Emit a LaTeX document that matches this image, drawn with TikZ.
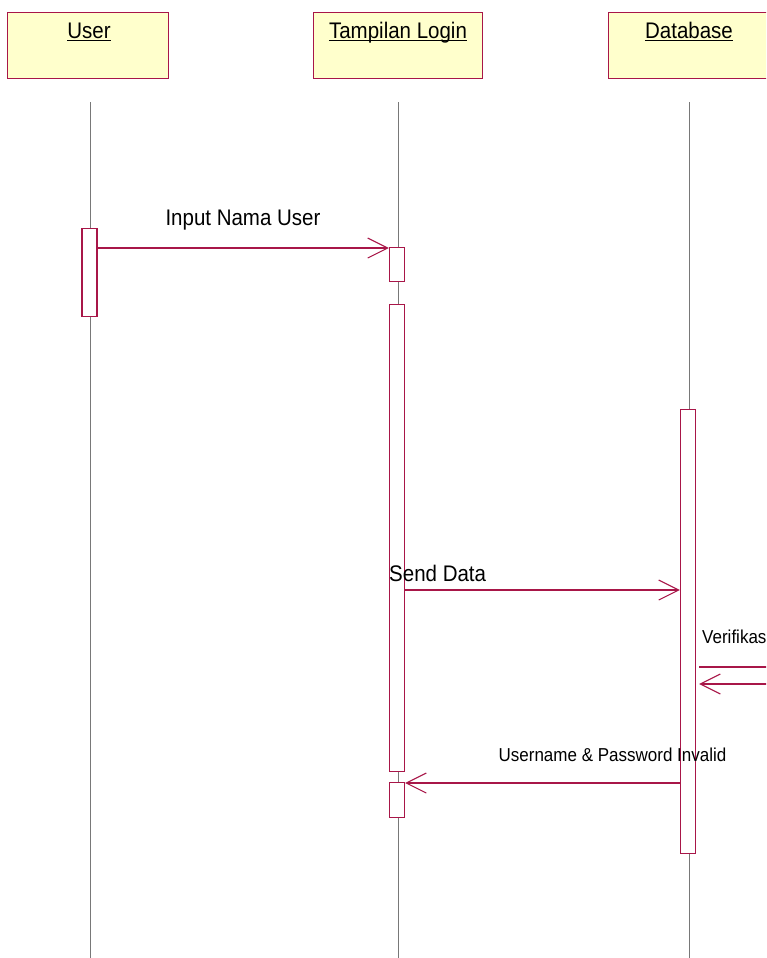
\documentclass[tikz,border=0pt]{standalone}
\usepackage{fontspec}
\usepackage{graphicx}
\setmainfont{Liberation Sans}
\usetikzlibrary{arrows.meta}
\definecolor{umlred}{RGB}{168,22,72}
\definecolor{umlfill}{RGB}{255,255,204}
\definecolor{lifegray}{RGB}{120,120,120}
\newcommand{\tallt}[1]{\scalebox{1}[1.1]{#1}}
\begin{document}
\begin{tikzpicture}[x=1pt,y=-1pt,
  objbox/.style={draw=umlred, fill=umlfill, line width=1pt, anchor=north west,
    minimum width=161pt, minimum height=66pt, inner sep=0pt},
  hdrtext/.style={font=\fontsize{20.5}{24}\selectfont, inner sep=0pt, anchor=base},
  uline/.style={draw=black, line width=0.9pt},
  life/.style={draw=lifegray, line width=0.9pt},
  act/.style={draw=umlred, fill=white, line width=1.1pt, anchor=north,
    minimum width=15pt, inner sep=0pt},
  msg/.style={draw=umlred, line width=1.1pt,
    -{Straight Barb[length=20pt,width=20pt,line width=1.1pt]}},
  msgline/.style={draw=umlred, line width=1.1pt},
  bigtext/.style={font=\fontsize{20.5}{24}\selectfont, inner sep=0pt},
  smalltext/.style={font=\fontsize{17}{20}\selectfont, inner sep=0pt}]
\useasboundingbox (0,0) rectangle (766,958);
\clip (0,0) rectangle (766,958);

% object headers
\node[objbox] (user) at (7,12) {};
\node[objbox, minimum width=169pt] (login) at (313,12) {};
\node[objbox] (db) at (608,12) {};
\node[hdrtext] (userlbl) at (89,38) {\tallt{User}};
\node[hdrtext] (loginlbl) at (398,38) {\tallt{Tampilan Login}};
\node[hdrtext] (dblbl) at (689,38) {\tallt{Database}};
\draw[uline] ([yshift=-2.2pt]userlbl.base west) -- ([yshift=-2.2pt]userlbl.base east);
\draw[uline] ([yshift=-2.2pt]loginlbl.base west) -- ([yshift=-2.2pt]loginlbl.base east);
\draw[uline] ([yshift=-2.2pt]dblbl.base west) -- ([yshift=-2.2pt]dblbl.base east);

% lifelines
\coordinate (uTop) at (90,102);   \coordinate (uBot) at (90,958);
\coordinate (lTop) at (398,102);  \coordinate (lBot) at (398,958);
\coordinate (dTop) at (689,102);  \coordinate (dBot) at (689,958);
\draw[life] (uTop) -- (uBot);
\draw[life] (lTop) -- (lBot);
\draw[life] (dTop) -- (dBot);

% activation bars
\node[act, minimum height=88pt] (ua) at (89.5,228) {};
\node[act, minimum height=34pt] (la1) at (397,247) {};
\node[act, minimum height=467pt] (la2) at (397,304) {};
\node[act, minimum height=35pt] (la3) at (397,782) {};
\node[act, minimum height=444pt] (da) at (688,409) {};

% messages
\draw[msg] (ua.east |- 0,248) -- (la1.west |- 0,248);
\node[bigtext] (m1) at (243,220) {\tallt{Input Nama User}};

\draw[msg] (la2.east |- 0,590) -- (da.west |- 0,590);
\node[bigtext, anchor=west] (m2) at (389,573) {\tallt{Send Data}};

\coordinate (selfA) at ([xshift=3pt]da.east |- 0,667);
\coordinate (selfB) at (800,667);
\coordinate (selfC) at (800,684);
\coordinate (selfD) at ([xshift=3pt]da.east |- 0,684);
\draw[msgline] (selfA) -- (selfB) -- (selfC);
\draw[msg] (selfC) -- (selfD);
\node[smalltext, anchor=west] (m3) at (702,637) {\tallt{Verifikas}};

\draw[msg] (da.west |- 0,783) -- (la3.east |- 0,783);
\node[smalltext] (m4) at (612.5,755) {\tallt{Username \& Password Invalid}};
\end{tikzpicture}
\end{document}
